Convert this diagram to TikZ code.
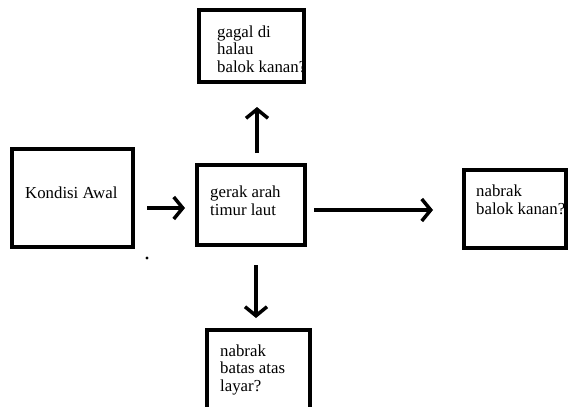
\documentclass[tikz,border=0pt]{standalone}
\usepackage{fontspec}
\setmainfont{Liberation Serif}
\usetikzlibrary{arrows.meta}
\begin{document}
\begin{tikzpicture}[x=1pt,y=-1pt,
  box/.style={draw=black,line width=4pt,rectangle,inner sep=0pt,fill=white},
  lbl/.style={anchor=base west,align=left,inner sep=0pt,
    font=\fontsize{16.8}{17.5}\selectfont},
  arr/.style={line width=3.5pt,-{Straight Barb[length=9pt,width=22pt,line width=3.5pt]}}]
\useasboundingbox (0,0) rectangle (568,407);
\clip (0,0) rectangle (568,407);
\fill[white] (0,0) rectangle (568,407);
% boxes
\node[box,minimum width=121pt,minimum height=98pt] (kond) at (72.5,198) {};
\node[box,minimum width=108pt,minimum height=80pt] (mid) at (251,205) {};
\node[box,minimum width=105pt,minimum height=72pt] (top) at (251.5,46) {};
\node[box,minimum width=102pt,minimum height=78pt] (rbox) at (515,209) {};
\node[box,minimum width=103pt,minimum height=90pt] (bot) at (258.5,375) {};
% texts (anchored at the baseline of the last line)
\node[lbl] (tkond) at (25,198) {Kondisi Awal};
\node[lbl] (tmid) at (210,215) {gerak arah\\timur laut};
\node[lbl] (ttop) at (217,72) {gagal di\\halau\\balok kanan?};
\node[lbl] (trbox) at (476,214) {nabrak\\balok kanan?};
\node[lbl] (tbot) at (220,391) {nabrak\\batas atas\\layar?};
% connectors
\draw[arr] ([xshift=12pt,yshift=-10pt]kond.east) -- ([xshift=-10pt,yshift=-3pt]mid.west);
\draw[arr] ([xshift=7pt,yshift=-5pt]mid.east) -- ([xshift=-29pt,yshift=-1pt]rbox.west);
\draw[arr] ([xshift=6pt,yshift=10pt]mid.north) -- ([xshift=5.5pt,yshift=-23pt]top.south);
\draw[arr] ([xshift=5pt,yshift=-18pt]mid.south) -- ([xshift=-2.5pt,yshift=10pt]bot.north);
% stray dot
\fill (147,258) circle (1.6pt);
\end{tikzpicture}
\end{document}
